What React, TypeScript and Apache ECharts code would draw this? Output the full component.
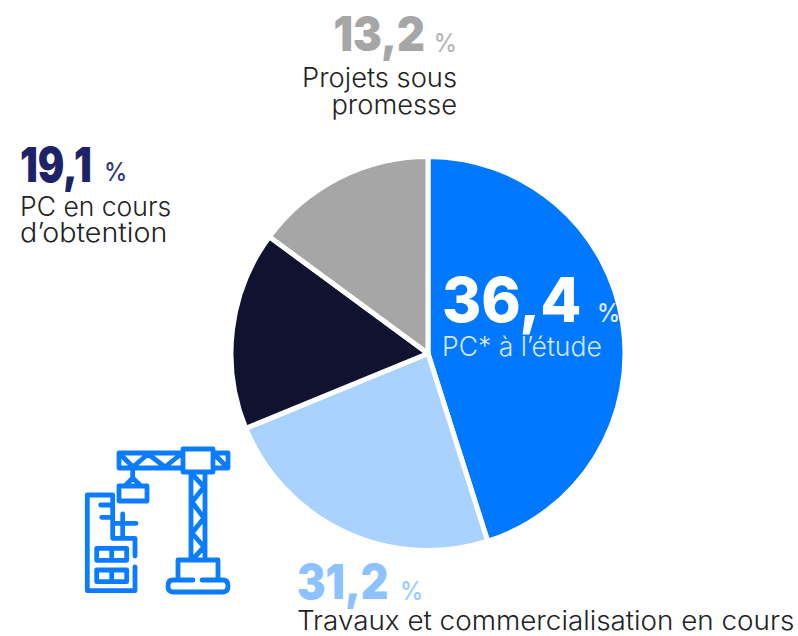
import React, { useEffect, useRef } from "react";
import * as echarts from "echarts";

const sliceNames = ["PC* à l’étude", "Travaux et commercialisation en cours", "PC en cours d’obtention", "Projets sous promesse"];
const sliceValues = [45.1, 23.7, 16.3, 14.9];
const sliceColors = ["#0078ff", "#aad2ff", "#10122f", "#a6a6a6"];
const percentLabels = ["36,4", "31,2", "19,1", "13,2"];

const FONT = "Inter, 'Noto Sans', sans-serif";

const craneIcon =
  "M119 453 H183 V468 H119 Z M213 453 H228 V468 H213 Z M183 449 H213 V472 H183 Z " +
  "M120 454 L133 467 L148 454 L165 467 L181 454 M215 455 L226 466 " +
  "M132.7 468 V478 M125 486 L132.7 478 L141 486 M119 486 H147 V501 H119 Z " +
  "M191 472 V560 M205 472 V560 M192 474 L204 487 L192 502 L204 518 L192 533 L204 547 L192 560 " +
  "M178 578 V560 H218 V578 M193 580 H173 Q168 580 168 586 Q168 592 173 592 H223 Q228 592 228 586 Q228 580 223 580 H202 " +
  "M112.7 495 H87.3 V590.7 H135 V567 M112.7 495 V538.3 H135 V556 " +
  "M100.7 505 H112.7 M101.7 517.3 H112.7 M122.7 514 V538.3 M112.7 523.3 H136 " +
  "M96.7 548.3 H126.7 V560.3 H96.7 Z M111.7 548.3 V560.3 M96.7 570 H126.7 V581.7 H96.7 Z M111.7 570 V581.7";

echarts.graphic.registerShape("crane", echarts.graphic.extendPath(craneIcon, {}));

// x, base: anchor and baseline of the text; sx: horizontal stretch towards the reference's glyph widths
function b(text: string, x: number, base: number, size: number, weight: number, fill: string, align: string = "left", sx: number = 1) {
  return {
    type: "text",
    x,
    y: base + size * 0.125,
    scaleX: sx,
    z: 10,
    style: { text, fontFamily: FONT, fontSize: size, fontWeight: weight, fill, align, verticalAlign: "bottom" },
  };
}

export default function App() {
  const ref = useRef<HTMLDivElement>(null);
  useEffect(() => {
    document.body.style.margin = "0";
    document.body.style.background = "#fff";
    const chart = echarts.init(ref.current!, null, { renderer: "svg" });
    chart.setOption({
      animation: false,
      backgroundColor: "#ffffff",
      series: [
        {
          type: "pie",
          center: [428, 353.5],
          radius: [0, 197],
          startAngle: 90,
          clockwise: true,
          silent: true,
          label: { show: false },
          labelLine: { show: false },
          itemStyle: { borderColor: "#ffffff", borderWidth: 5 },
          data: sliceNames.map((name, i) => ({
            name,
            value: sliceValues[i],
            itemStyle: { color: sliceColors[i] },
          })),
        },
      ],
      graphic: [
        b(percentLabels[3], 425, 52, 48, 900, "#a6a6a6", "right", 0.9),
        b("%", 457, 52, 26, 500, "#b5b5b5", "right", 0.9),
        b("Projets sous", 457, 87, 26.5, 300, "#222222", "right", 1.03),
        b("promesse", 457, 114, 26.5, 300, "#222222", "right", 1.03),

        b(percentLabels[2], 20, 182, 48, 900, "#1d2366", "left", 0.82),
        b("%", 104, 181, 26, 500, "#2e3a80", "left", 0.9),
        b("PC en cours", 20, 216, 26.5, 300, "#222222", "left", 1.0),
        b("d’obtention", 20, 243, 26.5, 300, "#222222", "left", 1.08),

        b(percentLabels[0], 442, 323, 62, 800, "#ffffff", "left", 0.965),
        b("%", 597, 322, 26, 500, "#e0eeff", "left", 0.9),
        b("PC* à l’étude", 442, 356, 26.5, 300, "#d5e8ff", "left", 1.0),

        b(percentLabels[1], 297, 600, 48, 900, "#8cc2ff", "left", 0.89),
        b("%", 400, 600, 26, 500, "#9acaff", "left", 0.9),
        b("Travaux et commercialisation en cours", 297, 631, 26.5, 300, "#222222", "left", 1.05),

        {
          type: "crane",
          x: 0,
          y: 0,
          z: 10,
          style: { fill: "none", stroke: "#0a7cff", lineWidth: 4.8, lineJoin: "round", lineCap: "round" },
        },
      ],
    });
    return () => chart.dispose();
  }, []);
  return <div ref={ref} style={{ width: 798, height: 636 }} />;
}
